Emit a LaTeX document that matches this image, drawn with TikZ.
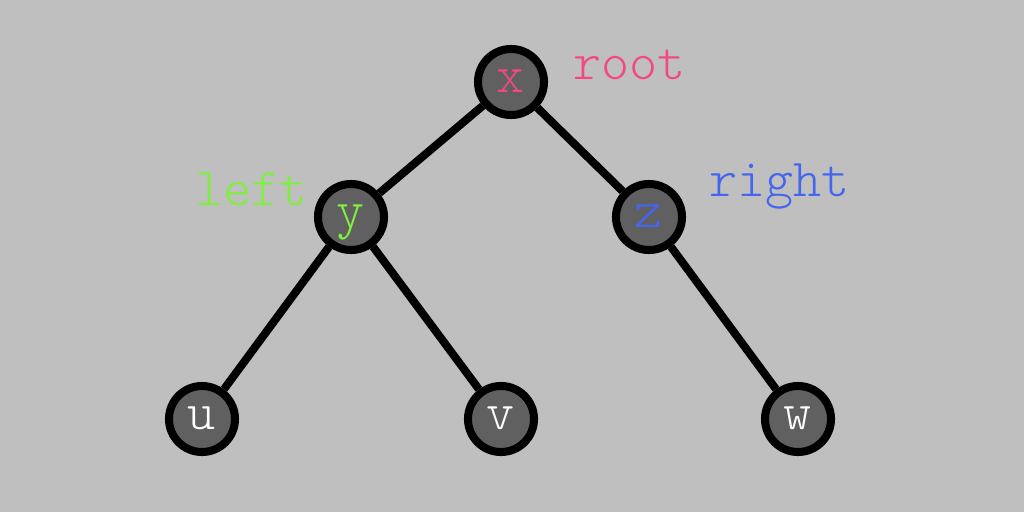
\documentclass[tikz,border=0pt]{standalone}
\usepackage{fontspec}
\setmonofont{lmmonolt10-regular.otf}
\definecolor{bg}{HTML}{BFBFBF}
\definecolor{nodefill}{HTML}{606060}
\definecolor{pinkc}{HTML}{F44882}
\definecolor{greenc}{HTML}{80F040}
\definecolor{bluec}{HTML}{4466EE}
\tikzset{
  treenode/.style={circle, draw=black, fill=nodefill, line width=2.28pt,
    minimum size=0.66cm, inner sep=0pt, text height=6.2pt, text depth=0pt,
    font=\ttfamily\fontsize{15.2}{18}\selectfont},
  tag/.style={anchor=base west, inner sep=0pt, font=\ttfamily\fontsize{15.2}{18}\selectfont},
  edge/.style={line width=2.28pt, draw=black}
}
\begin{document}
\begin{tikzpicture}[x=0.01cm,y=-0.01cm]
\fill[bg] (0,0) rectangle (1024,512);
\useasboundingbox (0,0) rectangle (1024,512);
\node[treenode, text=pinkc] (x) at (511,82) {x};
\node[treenode, text=greenc] (y) at (351,217) {y};
\node[treenode, text=bluec] (z) at (649,217) {z};
\node[treenode, text=white] (u) at (202,419) {u};
\node[treenode, text=white] (v) at (501,419) {v};
\node[treenode, text=white] (w) at (798,419) {w};
\draw[edge] (x) -- (y);
\draw[edge] (x) -- (z);
\draw[edge] (y) -- (u);
\draw[edge] (y) -- (v);
\draw[edge] (z) -- (w);
\node[tag, text=pinkc] (troot) at (573,80) {root};
\node[tag, text=greenc] (tleft) at (195,205) {left};
\node[tag, text=bluec] (tright) at (709,196) {right};
\end{tikzpicture}
\end{document}
